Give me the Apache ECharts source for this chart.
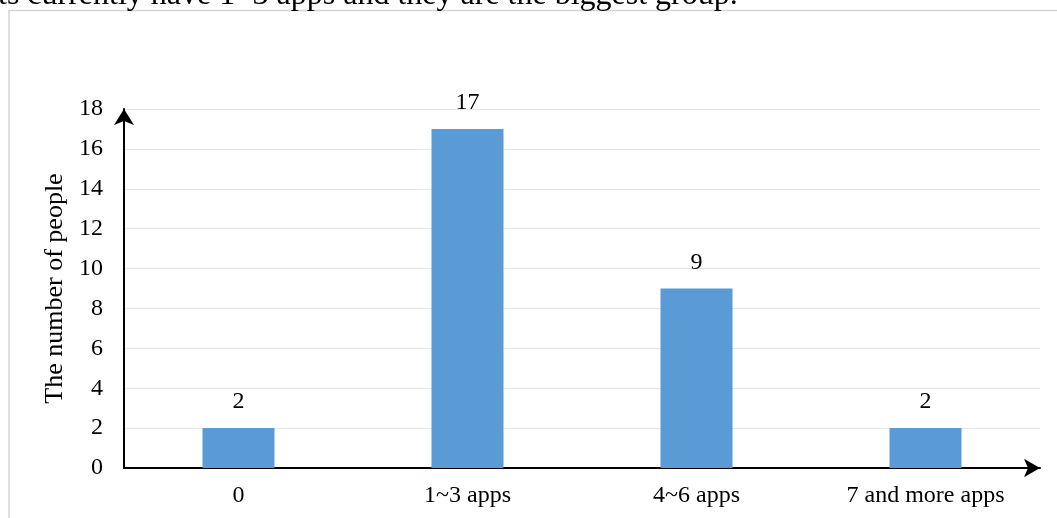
<!DOCTYPE html>
<html>
<head>
<meta charset="utf-8">
<script src="https://cdn.jsdelivr.net/npm/echarts@6/dist/echarts.min.js"></script>
<style>
html,body{margin:0;padding:0;background:#fff;}
#c{width:1057px;height:518px;}
</style>
</head>
<body>
<div id="c"></div>
<script>
const categories = ['0', '1~3 apps', '4~6 apps', '7 and more apps'];
const values = [2, 17, 9, 2];
const yTicks = [0, 2, 4, 6, 8, 10, 12, 14, 16, 18];
const yTitle = 'The number of people';
const headerText = 'ts currently have 1~3 apps and they are the biggest group.';

const FONT = "'Liberation Serif', 'Times New Roman', serif";
const chart = echarts.init(document.getElementById('c'));
chart.setOption({
  backgroundColor: '#fff',
  animation: false,
  graphic: [
    {type: 'rect', shape: {x: 9, y: 10.5, width: 1200, height: 700}, style: {fill: 'none', stroke: '#d6d6d6', lineWidth: 1.5}, z: 0},
    {type: 'text', left: -2, top: -20, style: {text: headerText, font: "32px 'Liberation Serif', serif", fill: '#000'}}
  ],
  grid: {left: 124, right: 17, top: 109, bottom: 50, containLabel: false},
  xAxis: {
    type: 'category',
    data: categories,
    axisLine: {show: true, symbol: ['none', 'arrow'], symbolSize: [14, 16], lineStyle: {color: '#000', width: 2}},
    axisTick: {show: false},
    axisLabel: {fontFamily: FONT, fontSize: 24, color: '#000', margin: 16}
  },
  yAxis: {
    type: 'value',
    min: yTicks[0], max: yTicks[yTicks.length - 1], interval: 2,
    name: yTitle,
    nameLocation: 'middle',
    nameGap: 48,
    nameRotate: 90,
    nameTextStyle: {fontFamily: FONT, fontSize: 26, color: '#000'},
    axisLine: {show: true, symbol: ['none', 'arrow'], symbolSize: [15, 16], lineStyle: {color: '#000', width: 2}},
    axisTick: {show: false},
    axisLabel: {fontFamily: FONT, fontSize: 24, color: '#000', margin: 21},
    splitLine: {show: true, lineStyle: {color: '#e6e6e6', width: 1}}
  },
  series: [{
    type: 'bar',
    data: values,
    barWidth: 72,
    itemStyle: {color: '#5b9bd5'},
    label: {show: true, position: 'top', distance: 14, fontFamily: FONT, fontSize: 24, color: '#000'}
  }]
});
</script>
</body>
</html>
